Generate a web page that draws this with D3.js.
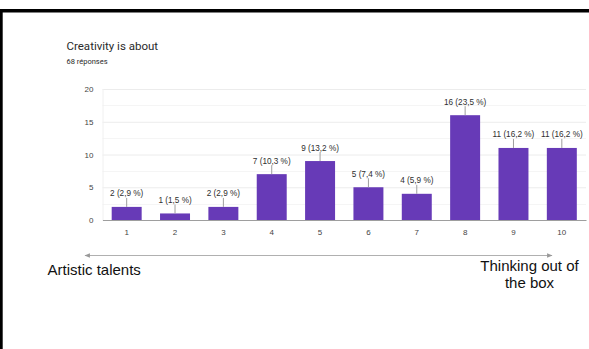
<!DOCTYPE html>
<html>
<head>
<meta charset="utf-8">
<script src="https://cdn.jsdelivr.net/npm/d3@7"></script>
<style>
  html, body { margin: 0; padding: 0; background: #fff; }
  svg { display: block; }
</style>
</head>
<body>
<svg id="chart" width="589" height="349"></svg>
<script>
// Survey results: "Creativity is about" on a 1–10 scale
const categories = ["1", "2", "3", "4", "5", "6", "7", "8", "9", "10"];
const counts = [2, 1, 2, 7, 9, 5, 4, 16, 11, 11];
const percents = ["2,9", "1,5", "2,9", "10,3", "13,2", "7,4", "5,9", "23,5", "16,2", "16,2"];
const yTicks = [0, 5, 10, 15, 20];
const minorTicks = [2.5, 7.5, 12.5, 17.5];
const title = "Creativity is about";
const subtitle = "68 réponses";
const leftPole = "Artistic talents";
const rightPole = ["Thinking out of", "the box"];

const svg = d3.select("#chart");
const W = 589, H = 349;
const chartFont = "'Liberation Sans', Arial, sans-serif";

// frame: heavy top rule and thin left rule
svg.append("rect").attr("x", 0).attr("y", 9).attr("width", W).attr("height", 3.5).attr("fill", "#000");
svg.append("rect").attr("x", 0).attr("y", 9).attr("width", 2.7).attr("height", H - 9).attr("fill", "#000");

// headings
svg.append("text").attr("x", 66.5).attr("y", 49.5)
  .attr("font-family", "Roboto, sans-serif").attr("font-size", 11.5).attr("fill", "#2a2a2a")
  .text(title);
svg.append("text").attr("x", 66.5).attr("y", 63.5)
  .attr("font-family", "Roboto, sans-serif").attr("font-size", 7.5).attr("fill", "#2a2a2a")
  .text(subtitle);

// scales
const plot = { left: 102.5, right: 586, top: 89, bottom: 220 };
const x = d3.scaleBand().domain(categories).range([plot.left, plot.right]).paddingInner(0.38).paddingOuter(0.19);
const y = d3.scaleLinear().domain([0, 20]).range([plot.bottom, plot.top]);

const g = svg.append("g");

// minor gridlines
g.append("g").selectAll("line").data(minorTicks).join("line")
  .attr("x1", plot.left).attr("x2", plot.right)
  .attr("y1", d => Math.round(y(d)) + 0.5).attr("y2", d => Math.round(y(d)) + 0.5)
  .attr("stroke", "#f5f5f5").attr("stroke-width", 1);

// major gridlines + y labels via axis
const yAxis = d3.axisLeft(y).tickValues(yTicks).tickSize(-(plot.right - plot.left)).tickPadding(9);
const ya = g.append("g").attr("transform", `translate(${plot.left},0)`).call(yAxis);
ya.select(".domain").remove();
ya.selectAll(".tick line").attr("stroke", "#ececec");
ya.selectAll(".tick text").attr("font-family", chartFont).attr("font-size", 8).attr("fill", "#444");

// left edge line of the plot area
g.append("line").attr("x1", plot.left + 0.5).attr("x2", plot.left + 0.5)
  .attr("y1", plot.top).attr("y2", plot.bottom).attr("stroke", "#f0f0f0");

// bars
g.append("g").selectAll("rect").data(counts).join("rect")
  .attr("x", (d, i) => x(categories[i]))
  .attr("width", x.bandwidth())
  .attr("y", d => y(d))
  .attr("height", d => y(0) - y(d))
  .attr("fill", "#673ab7");

// baseline + x labels
const xAxis = d3.axisBottom(x).tickSize(0).tickPadding(9);
const xa = g.append("g").attr("transform", `translate(0,${plot.bottom})`).call(xAxis);
xa.select(".domain").attr("stroke", "#9e9e9e").attr("stroke-width", 1.2);
xa.selectAll(".tick text").attr("font-family", chartFont).attr("font-size", 8).attr("fill", "#444");

// value labels with leader lines
const lab = g.append("g").selectAll("g").data(counts).join("g")
  .attr("transform", (d, i) => `translate(${x(categories[i]) + x.bandwidth() / 2},${y(d)})`);
lab.append("line").attr("x1", 0).attr("x2", 0).attr("y1", -9).attr("y2", 0)
  .attr("stroke", "#9e9e9e").attr("stroke-width", 1);
lab.append("text").attr("y", -10.5).attr("text-anchor", "middle")
  .attr("font-family", chartFont).attr("font-size", 8.2).attr("fill", "#2e2e2e")
  .text((d, i) => `${d} (${percents[i]} %)`);

// scale pole arrow
const defs = svg.append("defs");
defs.append("marker").attr("id", "ah").attr("viewBox", "0 0 10 10").attr("refX", 9).attr("refY", 5)
  .attr("markerWidth", 5).attr("markerHeight", 5).attr("orient", "auto-start-reverse")
  .append("path").attr("d", "M0,1 L10,5 L0,9 Z").attr("fill", "#999");
svg.append("line").attr("x1", 85).attr("x2", 552).attr("y1", 255.5).attr("y2", 255.5)
  .attr("stroke", "#b0b0b0").attr("stroke-width", 1.1)
  .attr("marker-start", "url(#ah)").attr("marker-end", "url(#ah)");

svg.append("text").attr("x", 47.5).attr("y", 274.5)
  .attr("font-family", chartFont).attr("font-size", 15).attr("fill", "#111")
  .text(leftPole);
const rp = svg.append("text").attr("x", 529.5).attr("y", 270.5).attr("text-anchor", "middle")
  .attr("font-family", chartFont).attr("font-size", 15).attr("fill", "#111");
rp.selectAll("tspan").data(rightPole).join("tspan")
  .attr("x", 529.5).attr("dy", (d, i) => i === 0 ? 0 : 17).text(d => d);
</script>
</body>
</html>
